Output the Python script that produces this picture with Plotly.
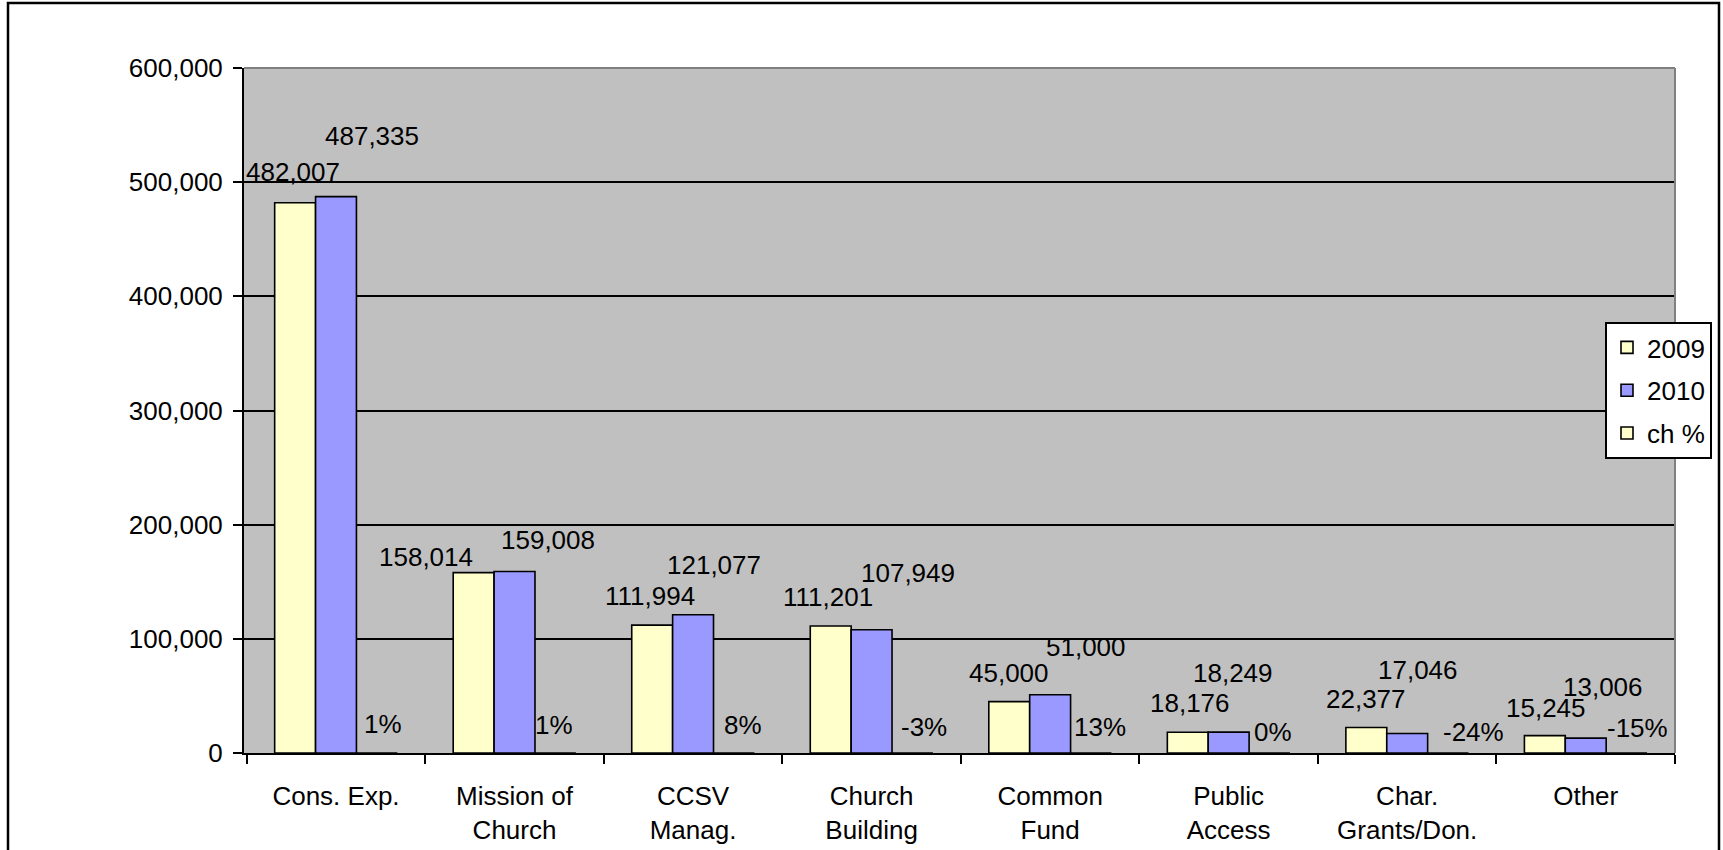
import plotly.graph_objects as go

# ---- data ----
categories = ["Cons. Exp.", "Mission of<br>Church", "CCSV<br>Manag.", "Church<br>Building",
              "Common<br>Fund", "Public<br>Access", "Char.<br>Grants/Don.", "Other"]
values_2009 = [482007, 158014, 111994, 111201, 45000, 18176, 22377, 15245]
values_2010 = [487335, 159008, 121077, 107949, 51000, 18249, 17046, 13006]
ch_pct = [0.01, 0.01, 0.08, -0.03, 0.13, 0.00, -0.24, -0.15]
series_names = ["2009", "2010", "ch %"]
y_ticks = [0, 100000, 200000, 300000, 400000, 500000, 600000]

# ---- label placement (pixel offsets: dx, dy above bar end) ----
off_2009 = [(-2, 31), (-48, 16), (-2, 29), (-3, 29), (0, 29), (2, 29), (0, 28), (1, 28)]
off_2010 = [(36, 61), (33, 31), (21, 50), (36, 57), (36, 48), (4, 59), (11, 64), (17, 51)]
off_pct = [(6, 29), (-2, 28), (9, 28), (11, 26), (9, 26), (3, 21), (25, 21), (11, 25)]
series_shift = [-41, 0, 41]

FONT = "Arial, Liberation Sans, sans-serif"
C2009 = "#FFFFCC"
C2010 = "#9999FF"

fig = go.Figure()
for name, vals, col in [(series_names[0], values_2009, C2009),
                        (series_names[1], values_2010, C2010),
                        (series_names[2], ch_pct, C2009)]:
    fig.add_trace(go.Bar(x=categories, y=vals, name=name, legendgroup=name,
                         marker=dict(color=col, line=dict(color="black", width=1.6)),
                         hoverinfo="skip"))

ann = []
for i, c in enumerate(categories):
    for vals, offs, k in [(values_2009, off_2009, 0), (values_2010, off_2010, 1)]:
        dx, dy = offs[i]
        ann.append(dict(x=c, y=vals[i], text=f"{vals[i]:,}", showarrow=False,
                        xshift=series_shift[k] + dx, yshift=dy,
                        xanchor="center", yanchor="middle",
                        font=dict(family=FONT, size=26, color="black")))
    dx, dy = off_pct[i]
    ann.append(dict(x=c, y=0, text=f"{ch_pct[i]:.0%}", showarrow=False,
                    xshift=series_shift[2] + dx, yshift=dy,
                    xanchor="center", yanchor="middle",
                    font=dict(family=FONT, size=26, color="black")))

# outer chart border & plot border (gray top/right)
L, R, T, B = 244, 1675, 68, 753
def px(xp):
    return (xp - L) / (R - L)
def py(yp):
    return (B - yp) / (B - T)

shapes = [
    dict(type="line", xref="paper", yref="paper", x0=0, x1=1, y0=1, y1=1,
         line=dict(color="#808080", width=2), layer="above"),
    dict(type="line", xref="paper", yref="paper", x0=1, x1=1, y0=0, y1=1,
         line=dict(color="#808080", width=2), layer="above"),
    dict(type="path", xref="paper", yref="paper",
         path=f"M {px(8)},{py(900)} L {px(8)},{py(3)} L {px(1719)},{py(3)} L {px(1719)},{py(900)}",
         line=dict(color="black", width=2.5), layer="above"),
]

fig.update_layout(
    width=1723, height=850,
    margin=dict(l=L, r=1723 - R, t=T, b=850 - B, autoexpand=False),
    paper_bgcolor="white", plot_bgcolor="#C0C0C0",
    barmode="group", bargap=0.313, bargroupgap=0,
    font=dict(family=FONT, size=26, color="black"),
    showlegend=True,
    legend=dict(x=px(1605), y=py(322), xanchor="left", yanchor="top",
                bgcolor="white", bordercolor="black", borderwidth=2,
                font=dict(family=FONT, size=26, color="black"),
                traceorder="grouped", tracegroupgap=6, itemwidth=30),
    annotations=ann, shapes=shapes,
)
fig.update_xaxes(type="category", showline=True, linecolor="black", linewidth=2,
                 ticks="outside", tickson="boundaries", ticklen=9, tickwidth=2, tickcolor="black",
                 ticklabelstandoff=19, automargin=False,
                 showgrid=False, tickfont=dict(family=FONT, size=26, color="black"),
                 fixedrange=True)
fig.update_yaxes(range=[0, 600000], tickvals=y_ticks, tickformat=",d",
                 showline=True, linecolor="black", linewidth=2,
                 ticks="outside", ticklen=9, tickwidth=2, tickcolor="black",
                 ticklabelstandoff=5, automargin=False,
                 showgrid=True, gridcolor="black", gridwidth=1.6,
                 zeroline=False, tickfont=dict(family=FONT, size=26, color="black"),
                 fixedrange=True)

fig.write_html("out.html")
